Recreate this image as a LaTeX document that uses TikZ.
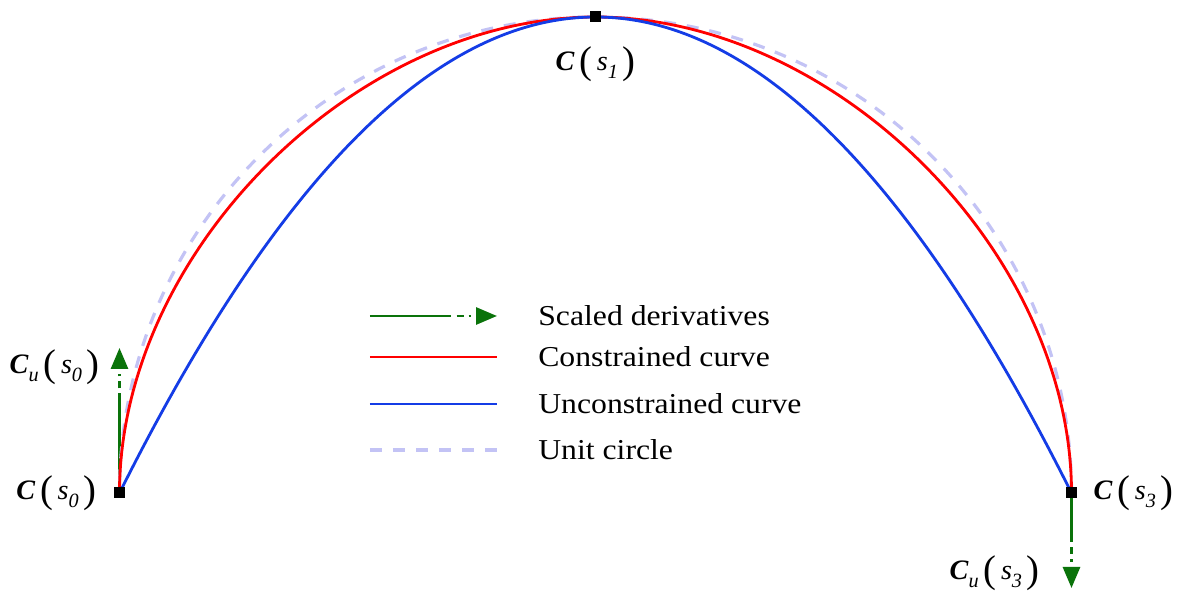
\documentclass[tikz,border=0pt]{standalone}
\usepackage{fontspec}
\setmainfont{Liberation Serif}
\newfontfamily\legfont[FakeStretch=1.1]{Liberation Serif}
\usepackage{graphicx}
\usepackage{xcolor}
\usetikzlibrary{arrows.meta,calc,positioning}

\definecolor{dergreen}{RGB}{10,115,10}
\definecolor{conred}{RGB}{255,0,0}
\definecolor{unconblue}{RGB}{20,60,230}
\definecolor{circlav}{RGB}{195,195,245}

\newcommand{\opar}{\raisebox{-0.05cm}{\fontsize{22}{22}\selectfont(}}
\newcommand{\cpar}{\raisebox{-0.05cm}{\fontsize{22}{22}\selectfont)}}
\newcommand{\lblsub}[1]{\raisebox{-0.16cm}{\fontsize{11.5}{11.5}\selectfont\itshape #1}}
\newcommand{\Cpt}[1]{\textbf{\textit{C}}\,\opar\,\textit{s}\lblsub{#1}\,\cpar}
\newcommand{\Cder}[1]{\textbf{\textit{C}}\lblsub{u}\,\opar\,\textit{s}\lblsub{#1}\,\cpar}

\begin{document}
\begin{tikzpicture}[
  lbl/.style={font=\fontsize{16}{19}\selectfont,inner sep=0pt},
  legtext/.style={font=\legfont\fontsize{16.4}{19}\selectfont,inner sep=0pt},
  knot/.style={rectangle,fill=black,minimum size=0.22cm,inner sep=0pt},
  deriv/.style={draw=dergreen,line width=1.6pt},
  dertail/.style={deriv,dash pattern=on 0pt off 0.1cm on 0.14cm off 0.1cm on 0.05cm off 0.1cm,-{Triangle[length=0.42cm,width=0.34cm]}},
  constr/.style={draw=conred,line width=1.6pt},
  unconstr/.style={draw=unconblue,line width=1.6pt},
  unitcirc/.style={draw=circlav,line width=1.8pt,dash pattern=on 0.24cm off 0.22cm}
]
\useasboundingbox[fill=white] (-11.91,-1.98) rectangle (11.71,9.86);

\coordinate (s0) at (-9.52,0);
\coordinate (s1) at (0,9.52);
\coordinate (s3) at (9.52,0);

\coordinate (d0) at (-9.52,2.90);
\coordinate (t0) at ($(d0)+(0,-0.91)$);
\coordinate (d3) at (9.52,-1.90);
\coordinate (t3) at ($(d3)+(0,0.91)$);

\draw[deriv] (s0) -- (t0);
\draw[dertail] (t0) -- (d0);
\draw[deriv] (s3) -- (t3);
\draw[dertail] (t3) -- (d3);

\draw[unitcirc] (s3) arc[start angle=0,end angle=180,radius=9.52];
\draw[constr] (s0) .. controls +(0,4.81) and +(-4.81,0) .. (s1) .. controls +(4.81,0) and +(0,4.81) .. (s3);
\draw[unconstr] (s0) .. controls (-3.173,12.693) and (3.173,12.693) .. (s3);

\node[knot] (k0) at (s0) {};
\node[knot] (k1) at (s1) {};
\node[knot] (k3) at (s3) {};

\node[lbl,left=0.34cm of k0] (lbl0) {\Cpt{0}};
\node[lbl,below=0.46cm of k1] (lbl1) {\Cpt{1}};
\node[lbl,right=0.32cm of k3] (lbl3) {\Cpt{3}};
\node[lbl,anchor=east] (lblu0) at (-9.91,2.52) {\Cder{0}};
\node[lbl,anchor=east] (lblu3) at (8.89,-1.60) {\Cder{3}};

\coordinate (lg1a) at (-4.51,3.54);
\coordinate (lg1b) at (-1.97,3.54);
\coordinate (lg1t) at (-2.88,3.54);
\coordinate (lg2a) at (-4.51,2.72);
\coordinate (lg2b) at (-1.97,2.72);
\coordinate (lg3a) at (-4.51,1.78);
\coordinate (lg3b) at (-1.97,1.78);
\coordinate (lg4a) at (-4.51,0.86);
\coordinate (lg4b) at (-1.97,0.86);

\draw[deriv] (lg1a) -- (lg1t);
\draw[dertail] (lg1t) -- (lg1b);
\draw[constr] (lg2a) -- (lg2b);
\draw[unconstr] (lg3a) -- (lg3b);
\draw[unitcirc] (lg4a) -- (lg4b);

\node[legtext,right=0.82cm of lg1b] (leg1) {Scaled derivatives};
\node[legtext,right=0.82cm of lg2b] (leg2) {Constrained curve};
\node[legtext,right=0.82cm of lg3b] (leg3) {Unconstrained curve};
\node[legtext,right=0.82cm of lg4b] (leg4) {Unit circle};
\end{tikzpicture}
\end{document}
